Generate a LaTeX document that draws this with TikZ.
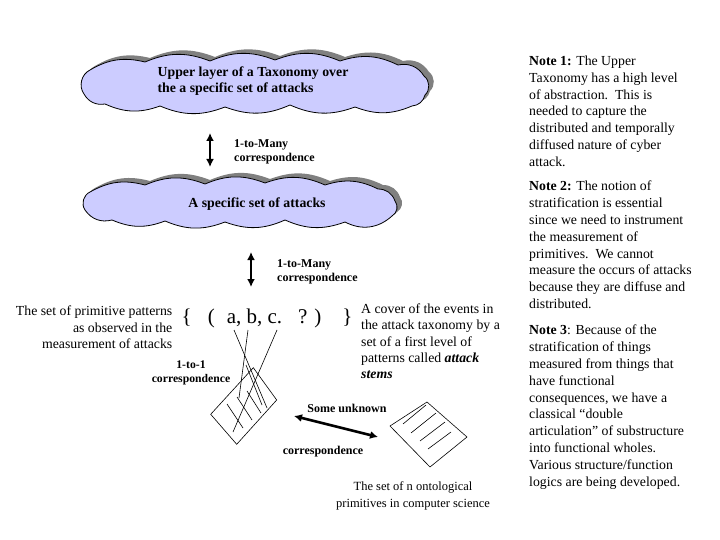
\documentclass[tikz,border=0pt]{standalone}
\usepackage{fontspec}
\setmainfont{Liberation Serif}
\usepackage{xcolor}
\usetikzlibrary{arrows.meta,positioning}
\definecolor{cloudfill}{HTML}{CCCCFF}

% cloud outlines (bumpy, flattened)
\newcommand{\topcloud}{(90,70) to[bump] (145,62) to[bump] (210,61)
  to[bump] (275,60) to[bump] (340,61) to[bump] (398,65)
  to[lobe] (424,76) to[endlobe] (425,95) to[lobe] (412,106)
  to[bump] (355,107) to[bump] (290,105) to[bump] (225,107)
  to[bump] (160,106) to[bump] (105,104) to[lobe] (84,94)
  to[endlobe] cycle}
\newcommand{\midcloud}{(90,192) to[bump] (145,185) to[bump] (205,184)
  to[bump] (265,183) to[bump] (325,185) to[bump] (378,189)
  to[lobe] (395,201) to[endlobe] (392,216) to[lobe] (345,222)
  to[bump] (285,220) to[bump] (225,222) to[bump] (165,221)
  to[bump] (112,220) to[lobe] (85,210) to[endlobe] cycle}

\begin{document}
\begin{tikzpicture}[x=1pt, y=-1pt,
      every node/.style={inner sep=0pt},
      bump/.style={bend left=22},
      lobe/.style={bend left=35},
      endlobe/.style={bend left=50},
      cloudshade/.style={fill=black!50, shift={(5,-4)}},
      cloudbody/.style={fill=cloudfill, draw=black, line width=0.8pt},
      cloudtxt/.style={font=\fontsize{13.8}{16}\selectfont\bfseries, align=left},
      body/.style={font=\fontsize{13.8}{16.3}\selectfont},
      note/.style={font=\fontsize{13.8}{16.9}\selectfont, align=left,
                   anchor=north west},
      lbl/.style={font=\fontsize{12}{14}\selectfont\bfseries, align=left},
      dblarr/.style={{Latex[length=8pt,width=8pt]}-{Latex[length=8pt,width=8pt]},
                     line width=2.6pt},
      sketch/.style={line width=0.6pt}
  ]
    \useasboundingbox (0,0) rectangle (720,540);

    % ---- Upper cloud ----
    \fill[cloudshade] \topcloud;
    \filldraw[cloudbody] \topcloud;
    \node[cloudtxt] (uptext) at (253, 81.3)
          {Upper layer of a Taxonomy over\\the a specific set of attacks};

    % ---- Middle cloud ----
    \fill[cloudshade] \midcloud;
    \filldraw[cloudbody] \midcloud;
    \node[cloudtxt] (midtext) at (257, 204) {A specific set of attacks};

    % ---- 1-to-Many arrows ----
    \coordinate (a1top) at (210, 133);
    \coordinate (a1bot) at (210, 167);
    \draw[dblarr] (a1top) -- (a1bot);
    \node[lbl, anchor=north west] (map1) at (234, 139.3)
          {1-to-Many\\correspondence};

    \coordinate (a2top) at (251, 252);
    \coordinate (a2bot) at (251, 287);
    \draw[dblarr] (a2top) -- (a2bot);
    \node[lbl, anchor=north west] (map2) at (277, 259.3)
          {1-to-Many\\correspondence};

    % ---- Pattern set row ----
    \node[body, align=right, anchor=north east] (observed) at (172.5, 305.8)
          {The set of primitive patterns\\as observed in the\\measurement of attacks};
    \node[font=\fontsize{21}{24}\selectfont, anchor=base west] (tuple)
          at (181.5, 323)
          {\{\hspace{16pt}(\hspace{12pt}a, b, c.\hspace{16pt}?\hspace{7pt})\hspace{21pt}\}};
    \node[body, align=left, anchor=north west] (cover) at (361, 303.5)
          {A cover of the events in\\the attack taxonomy by a\\set of a first level of\\
           patterns called \textbf{\textit{attack}}\\\textbf{\textit{stems}}};
    \node[lbl, align=center, anchor=north,
          font=\fontsize{11.7}{13.3}\selectfont\bfseries] (onetoone) at (191, 361)
          {1-to-1\\correspondence};

    % ---- Measurement sheet ----
    \draw[sketch] (210.7,414.3) -- (253.3,367.7) -- (276.7,400)
          -- (236.7,444.3) -- cycle;
    \draw[sketch] (227,404) -- (243,428);
    \draw[sketch] (237,397) -- (252,420);
    \draw[sketch] (247,391) -- (261,413);
    % lines from the letters
    \draw[sketch] (234,330) -- (267,408);
    \draw[sketch] (248,330) -- (239,398);
    \draw[sketch] (277,330) -- (233,432);
    \draw[sketch] (246,365) -- (262,405);

    % ---- Ontology sheet ----
    \draw[sketch] (390,426) -- (427,402) -- (467,437) -- (430,467) -- cycle;
    \draw[sketch] (403,424) -- (426,405);
    \draw[sketch] (411,433) -- (436,413);
    \draw[sketch] (420,441) -- (445,422);
    \draw[sketch] (428,449) -- (451,432);

    % ---- Some unknown correspondence ----
    \coordinate (uleft) at (294, 416);
    \coordinate (uright) at (378, 437);
    \draw[dblarr] (uleft) -- (uright);
    \node[lbl] (unknown) at (347, 408) {Some unknown};
    \node[lbl] (unknownc) at (323, 452) {correspondence};

    \node[font=\fontsize{12.5}{17}\selectfont, align=center, anchor=north]
          (onto) at (413, 481.5)
          {The set of n ontological\\primitives in computer science};

    % ---- Notes ----
    \node[note] (note1) at (529, 55.5) {%
      \textbf{Note 1:} The Upper\\
      Taxonomy has a high level\\
      of abstraction.\ \ This is\\
      needed to capture the\\
      distributed and temporally\\
      diffused nature of cyber\\
      attack.};

    \node[note] (note2) at (529, 180.5) {%
      \textbf{Note 2:} The notion of\\
      stratification is essential\\
      since we need to instrument\\
      the measurement of\\
      primitives.\ \ We cannot\\
      measure the occurs of attacks\\
      because they are diffuse and\\
      distributed.};

    \node[note] (note3) at (529, 324.5) {%
      \textbf{Note 3}: Because of the\\
      stratification of things\\
      measured from things that\\
      have functional\\
      consequences, we have a\\
      classical “double\\
      articulation” of substructure\\
      into functional wholes.\\
      Various structure/function\\
      logics are being developed.};

  \end{tikzpicture}
\end{document}
